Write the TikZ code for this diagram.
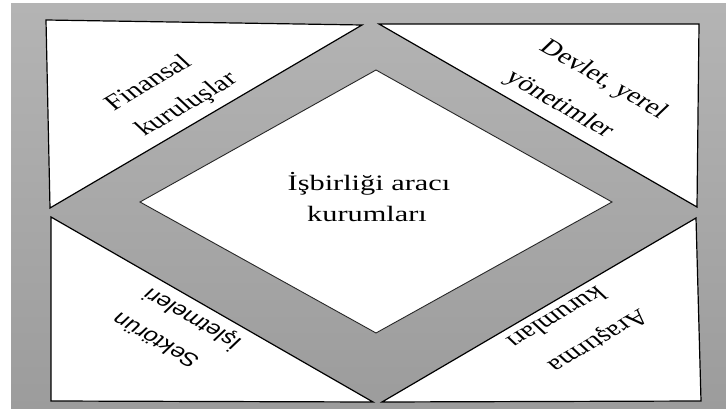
\documentclass[tikz,border=0pt]{standalone}
\usepackage{fontspec}
\setmainfont{Liberation Serif}
\newfontfamily\arialf{Liberation Sans}
\definecolor{bgtop}{RGB}{180,180,180}
\definecolor{bgbot}{RGB}{156,156,156}
\tikzset{
  tri/.style={draw=black, line width=1.2pt, fill=white, line join=miter},
  dia/.style={draw=black!85, line width=0.9pt, fill=white},
  lbl/.style={inner sep=0pt, xscale=1.35, font=\fontsize{22}{26}\selectfont},
  clbl/.style={inner sep=0pt, xscale=1.38, font=\fontsize{22}{26}\selectfont},
  slbl/.style={inner sep=0pt, xscale=1.35, font=\arialf\fontsize{19}{23}\selectfont},
}
\begin{document}
\begin{tikzpicture}[x=1pt,y=-1pt]
\useasboundingbox (0,0) rectangle (726,409);
\shade[top color=bgtop, bottom color=bgbot] (11,4) rectangle (726,409);
% corner triangles
\draw[tri] (46,20) -- (362,25) -- (50,208) -- cycle;
\draw[tri] (379,24) -- (699,24) -- (697,207) -- cycle;
\draw[tri] (51,217) -- (51,401) -- (373,402) -- cycle;
\draw[tri] (382,402) -- (701,401) -- (696,218) -- cycle;
% central diamond
\draw[dia] (376,70) -- (612,202) -- (376,333) -- (140,202) -- cycle;
% labels
\node[clbl] (c1) at (369,184) {İşbirliği aracı};
\node[clbl] (c2) at (367,214) {kurumları};
\node[lbl, rotate=38.4] (tl1) at (147,82) {Finansal};
\node[lbl, rotate=38.4] (tl2) at (187,105) {kuruluşlar};
\node[lbl, rotate=-37.8] (tr1) at (603,80) {Devlet, yerel};
\node[lbl, rotate=-37.8] (tr2) at (559,105) {yönetimler};
\node[slbl, rotate=142.2] (bl1) at (155,341) {Sektörün};
\node[slbl, rotate=142.2] (bl2) at (192,319) {İşletmeleri};
\node[lbl, rotate=218.35] (br1) at (597,340) {Araştırma};
\node[lbl, rotate=218.35] (br2) at (557,318) {kurumları};
\end{tikzpicture}
\end{document}
